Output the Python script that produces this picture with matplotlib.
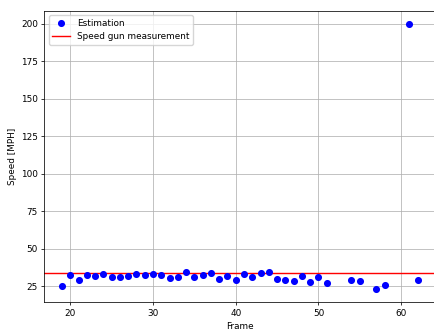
import matplotlib
matplotlib.use("Agg")
import matplotlib.pyplot as plt

frames = [19, 20, 21, 22, 23, 24, 25, 26, 27, 28, 29, 30, 31, 32, 33, 34, 35, 36, 37, 38,
          39, 40, 41, 42, 43, 44, 45, 46, 47, 48, 49, 50, 51, 54, 55, 57, 58, 61, 62]
speeds = [24.8, 32.3, 29.2, 32.3, 31.9, 32.8, 31.2, 31.0, 31.4, 32.8, 32.1, 32.8, 32.1, 30.4, 31.2,
          34.3, 30.8, 32.3, 33.4, 29.9, 31.9, 29.0, 32.8, 31.2, 33.9, 34.3, 29.9, 28.8, 28.3, 31.4,
          27.8, 31.0, 26.8, 28.8, 28.3, 23.0, 25.9, 200.0, 28.8]
gun_speed = 34.0

s = 0.68
plt.rcParams.update({
    "font.size": 6.4,
    "axes.linewidth": 0.8 * s,
    "grid.linewidth": 0.8 * s,
    "xtick.major.width": 0.8 * s,
    "ytick.major.width": 0.8 * s,
    "xtick.major.size": 3.5 * s,
    "ytick.major.size": 3.5 * s,
    "xtick.major.pad": 3.5 * s,
    "ytick.major.pad": 3.5 * s,
    "axes.labelpad": 4 * s,
})

fig = plt.figure(figsize=(4.35, 3.3), dpi=100)
W, H = 435, 330
left, right, top, bottom = 44.3, 435.4, 10.7, 302.3
ax = fig.add_axes([left / W, (H - bottom) / H, (right - left) / W, (bottom - top) / H])

ax.scatter(frames, speeds, color="blue", s=36 * s * s, label="Estimation", zorder=3)
ax.axhline(gun_speed, color="red", linewidth=1.5 * s, label="Speed gun measurement")
ax.set_xlabel("Frame")
ax.set_ylabel("Speed [MPH]")
ax.grid(True)
ax.legend(loc="upper left")
fig.savefig("out.png", dpi=100)
